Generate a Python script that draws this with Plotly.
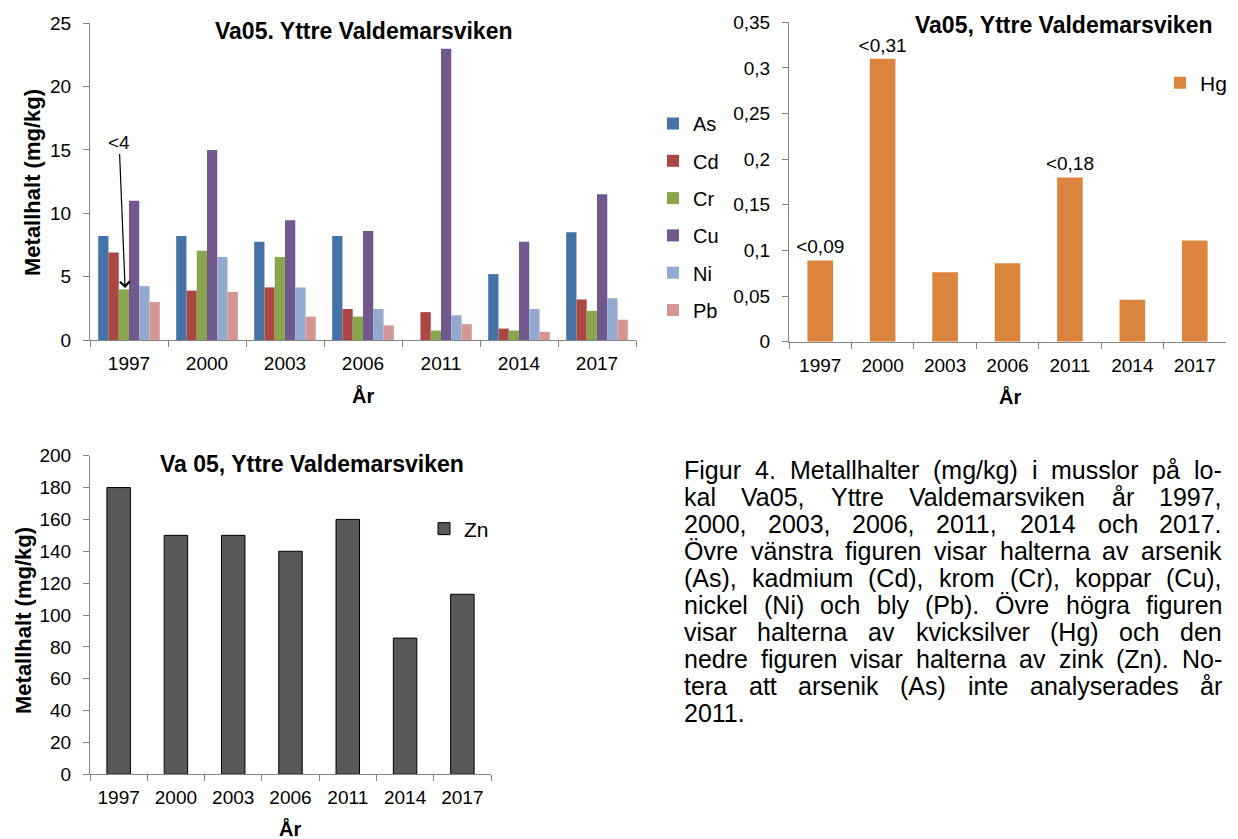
import plotly.graph_objects as go

# ---------------- data ----------------
years = ["1997", "2000", "2003", "2006", "2011", "2014", "2017"]
metals = ["As", "Cd", "Cr", "Cu", "Ni", "Pb"]
As = [8.2, 8.2, 7.75, 8.2, None, 5.2, 8.5]
Cd = [6.9, 3.9, 4.15, 2.45, 2.2, 0.9, 3.2]
Cr = [4.0, 7.05, 6.55, 1.85, 0.75, 0.75, 2.3]
Cu = [11.0, 15.0, 9.45, 8.6, 23.0, 7.75, 11.5]
Ni = [4.25, 6.55, 4.15, 2.45, 1.95, 2.45, 3.3]
Pb = [3.0, 3.8, 1.85, 1.15, 1.25, 0.65, 1.6]
metal_values = [As, Cd, Cr, Cu, Ni, Pb]

Hg = [0.089, 0.31, 0.076, 0.086, 0.18, 0.046, 0.111]
Hg_labels = ["<0,09", "<0,31", "", "", "<0,18", "", ""]
Hg_tickvals = [0, 0.05, 0.1, 0.15, 0.2, 0.25, 0.3, 0.35]
Hg_ticktext = ["0", "0,05", "0,1", "0,15", "0,2", "0,25", "0,3", "0,35"]

Zn = [180, 150, 150, 140, 160, 85.5, 113]

caption_lines = [
    "Figur 4. Metallhalter (mg/kg) i musslor på lo-",
    "kal Va05, Yttre Valdemarsviken år 1997,",
    "2000, 2003, 2006, 2011, 2014 och 2017.",
    "Övre vänstra figuren visar halterna av arsenik",
    "(As), kadmium (Cd), krom (Cr), koppar (Cu),",
    "nickel (Ni) och bly (Pb). Övre högra figuren",
    "visar halterna av kvicksilver (Hg) och den",
    "nedre figuren visar halterna av zink (Zn). No-",
    "tera att arsenik (As) inte analyserades år",
    "2011.",
]

# ---------------- styling ----------------
W, H = 1238, 839
FONT = "Liberation Sans, Arial, sans-serif"
metal_colors = ["#4572A7", "#AA4643", "#89A54E", "#71588F", "#93A9CF", "#D59795"]
hg_color = "#DB843D"
zn_color = "#595959"
axis_gray = "#868686"


def X(px):
    return px / W


def Y(py):
    return 1 - py / H


fig = go.Figure()

for name, vals, col in zip(metals, metal_values, metal_colors):
    fig.add_trace(go.Bar(
        x=years, y=vals, name=name, marker=dict(color=col, line=dict(width=0)),
        xaxis="x", yaxis="y", legend="legend", legendgroup=name,
    ))

fig.add_trace(go.Bar(
    x=years, y=Hg, name="Hg", marker=dict(color=hg_color, line=dict(width=0)),
    text=Hg_labels, textposition="outside", constraintext="none", cliponaxis=False,
    textfont=dict(size=19, color="black", family=FONT), width=0.41,
    xaxis="x2", yaxis="y2", legend="legend2",
))

fig.add_trace(go.Bar(
    x=years, y=Zn, name="Zn", marker=dict(color=zn_color, line=dict(color="black", width=1)),
    width=0.41, xaxis="x3", yaxis="y3", legend="legend3",
))


def xaxis(domain, anchor):
    return dict(domain=domain, anchor=anchor, type="category", showline=True,
                linecolor=axis_gray, linewidth=1, ticks="outside", tickson="boundaries",
                ticklen=6, tickcolor=axis_gray, tickfont=dict(size=19, color="black"),
                showgrid=False, zeroline=False, ticklabelstandoff=6, fixedrange=True,
                automargin=False)


def yaxis(domain, anchor, rng, **kw):
    d = dict(domain=domain, anchor=anchor, range=rng, showline=True, linecolor=axis_gray,
             linewidth=1, ticks="outside", ticklen=6, tickcolor=axis_gray,
             tickfont=dict(size=19, color="black"), showgrid=False, zeroline=False,
             ticklabelstandoff=8, fixedrange=True, automargin=False)
    d.update(kw)
    return d


fig.update_layout(
    width=W, height=H, margin=dict(l=0, r=0, t=0, b=0, autoexpand=False),
    paper_bgcolor="white", plot_bgcolor="white",
    font=dict(family=FONT, color="black"),
    barmode="group", bargap=0.21, bargroupgap=0,
    xaxis=xaxis([X(90), X(636)], "y"),
    yaxis=yaxis([Y(340), Y(23.3)], "x", [0, 25], dtick=5),
    xaxis2=xaxis([X(789), X(1226)], "y2"),
    yaxis2=yaxis([Y(341.7), Y(22.3)], "x2", [0, 0.35], tickvals=Hg_tickvals, ticktext=Hg_ticktext),
    xaxis3=xaxis([X(90), X(491)], "y3"),
    yaxis3=yaxis([Y(774.3), Y(455.7)], "x3", [0, 200], dtick=20),
    legend=dict(x=X(653), y=Y(104), xanchor="left", yanchor="top", font=dict(size=20),
                tracegroupgap=8.3, bgcolor="rgba(0,0,0,0)"),
    legend2=dict(x=X(1160), y=Y(83), xanchor="left", yanchor="middle", font=dict(size=21),
                 bgcolor="rgba(0,0,0,0)"),
    legend3=dict(x=X(424), y=Y(529), xanchor="left", yanchor="middle", font=dict(size=21),
                 bgcolor="rgba(0,0,0,0)"),
)

ann = []


def text_ann(txt, px, py, size, bold=False, angle=0, anchor="center"):
    ann.append(dict(text=f"<b>{txt}</b>" if bold else txt, x=X(px), y=Y(py),
                    xref="paper", yref="paper", showarrow=False, textangle=angle,
                    xanchor=anchor, yanchor="middle", font=dict(size=size, color="black"),
                    borderpad=0, borderwidth=0))


# titles
text_ann("Va05. Yttre Valdemarsviken", 364, 31, 23, bold=True)
text_ann("Va05, Yttre Valdemarsviken", 1064, 25, 23, bold=True)
text_ann("Va 05, Yttre Valdemarsviken", 312, 464, 23, bold=True)
# axis titles
text_ann("Metallhalt (mg/kg)", 33, 183, 22, bold=True, angle=-90)
text_ann("Metallhalt (mg/kg)", 23, 621, 22, bold=True, angle=-90)
text_ann("År", 363, 395, 20, bold=True)
text_ann("År", 1010, 397, 20, bold=True)
text_ann("År", 290, 828, 20, bold=True)

# "<4" arrow annotation on Cr 1997
ann.append(dict(text="<4", x=-0.05, y=Cr[0] + 0.1, xref="x", yref="y", showarrow=True,
                arrowhead=4, arrowsize=1.6, arrowwidth=1.2, arrowcolor="black",
                ax=-6, ay=-146, axref="pixel", ayref="pixel",
                font=dict(size=19, color="black"), standoff=0, startstandoff=0))

# caption with justified text (Arial metrics)
CW = {" ": 278, ".": 278, ",": 278, "(": 333, ")": 333, "/": 278, "-": 333, "<": 584,
      "å": 556, "ä": 556, "ö": 556, "Ö": 778}
for ch in "0123456789":
    CW[ch] = 556
CW.update(dict(a=556, b=556, c=500, d=556, e=556, f=278, g=556, h=556, i=222, j=222, k=500,
               l=222, m=833, n=556, o=556, p=556, q=556, r=333, s=500, t=278, u=556, v=500,
               w=722, x=500, y=500, z=500))
CW.update(dict(A=667, B=667, C=722, D=722, E=667, F=611, G=778, H=722, I=278, J=500, K=667,
               L=556, M=833, N=722, O=778, P=667, Q=778, R=722, S=667, T=611, U=722, V=667,
               W=944, X=667, Y=667, Z=611))

CAP_SIZE = 25
cap_left, cap_right = 684, 1222
cap_y0, cap_pitch = 470, 27.0


def tw(s):
    return sum(CW.get(ch, 556) for ch in s) * CAP_SIZE / 1000


for i, line in enumerate(caption_lines):
    py = cap_y0 + i * cap_pitch
    words = line.split(" ")
    if i == len(caption_lines) - 1 or len(words) == 1:
        text_ann(line, cap_left, py, CAP_SIZE, anchor="left")
        continue
    widths = [tw(w) for w in words]
    gap = (cap_right - cap_left - sum(widths)) / (len(words) - 1)
    x = cap_left
    for j, w in enumerate(words):
        if j == len(words) - 1:
            text_ann(w, cap_right, py, CAP_SIZE, anchor="right")
        else:
            text_ann(w, x, py, CAP_SIZE, anchor="left")
        x += widths[j] + gap

fig.update_layout(annotations=ann)

fig.write_html("out.html", config={"displayModeBar": False},
               post_script="document.body.style.margin='0';document.body.style.overflow='hidden';")
